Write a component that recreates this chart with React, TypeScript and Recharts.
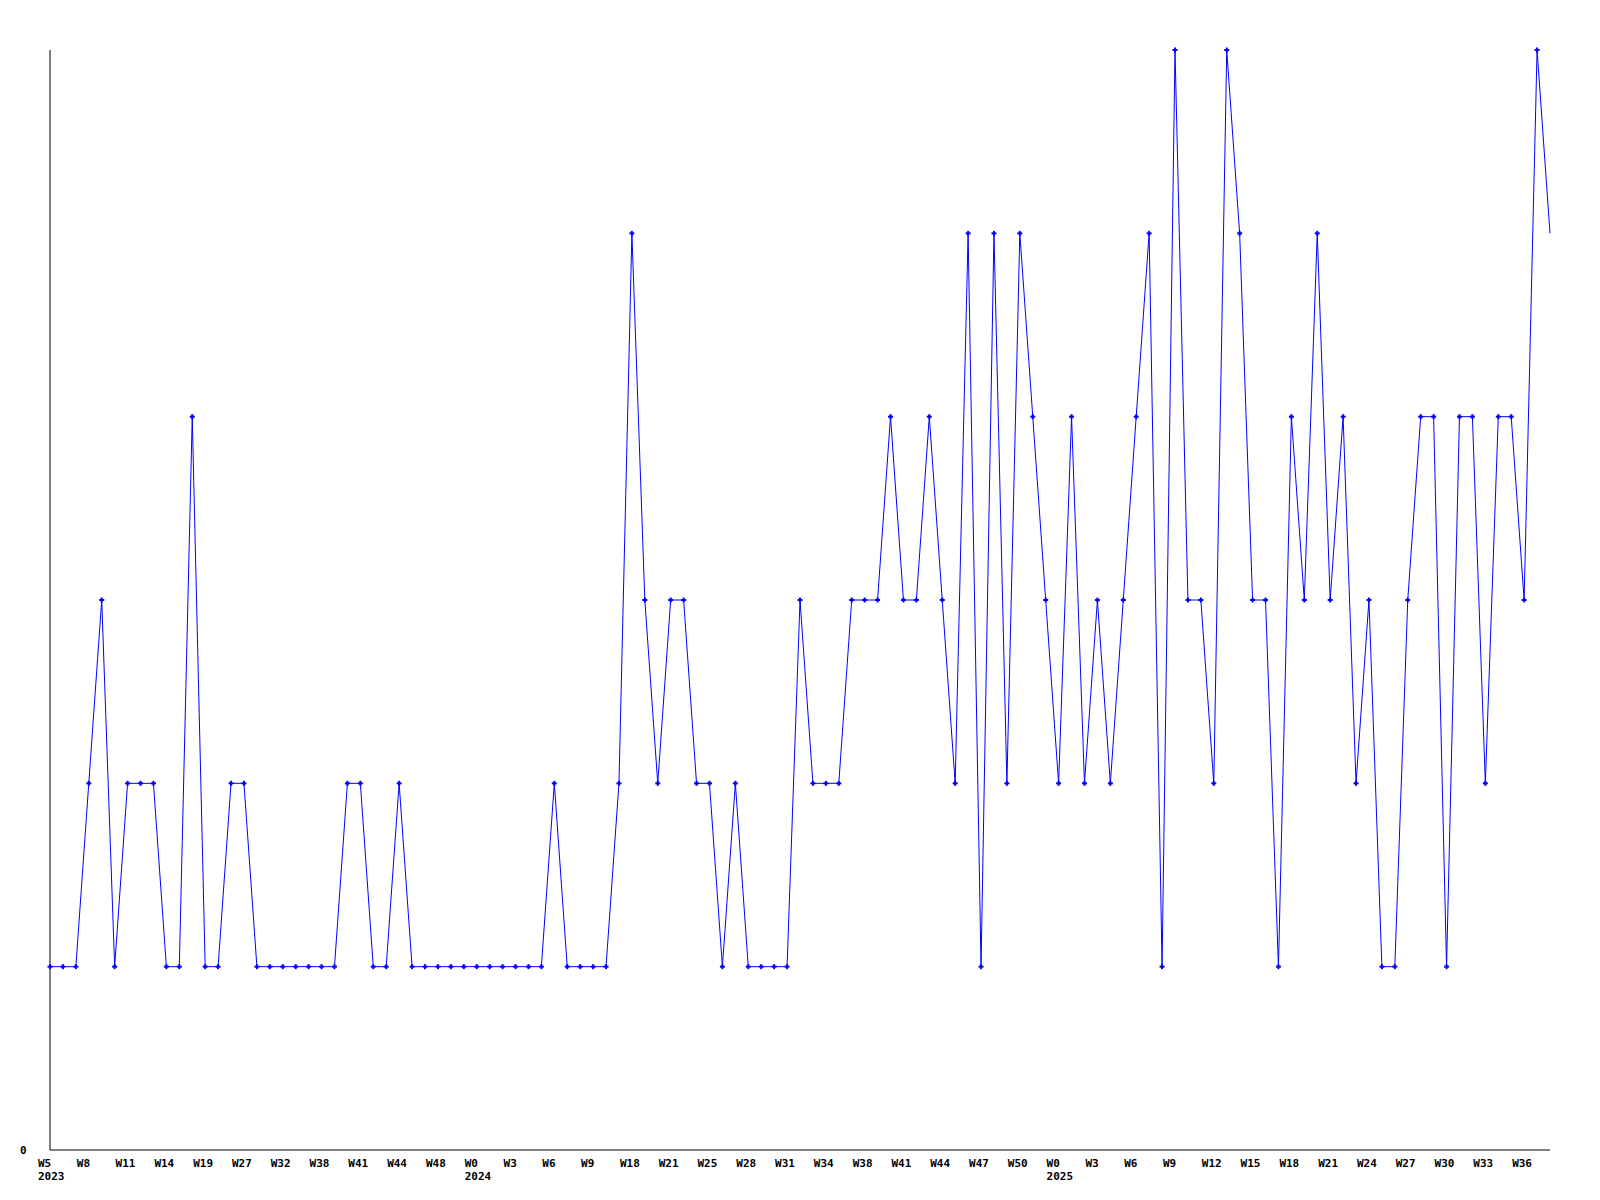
import { LineChart, Line, XAxis, YAxis } from 'recharts'

// one label every third week point
const weekTicks = [
  'W5', 'W8', 'W11', 'W14', 'W19', 'W27', 'W32', 'W38', 'W41', 'W44', 'W48',
  'W0', 'W3', 'W6', 'W9', 'W18', 'W21', 'W25', 'W28', 'W31', 'W34', 'W38', 'W41', 'W44', 'W47', 'W50',
  'W0', 'W3', 'W6', 'W9', 'W12', 'W15', 'W18', 'W21', 'W24', 'W27', 'W30', 'W33', 'W36',
]
// index into weekTicks where each year begins
const yearStarts = [0, 11, 26]
const years = ['2023', '2024', '2025']

const counts = [
  1, 1, 1, 2, 3, 1, 2, 2, 2, 1,
  1, 4, 1, 1, 2, 2, 1, 1, 1, 1,
  1, 1, 1, 2, 2, 1, 1, 2, 1, 1,
  1, 1, 1, 1, 1, 1, 1, 1, 1, 2,
  1, 1, 1, 1, 2, 5, 3, 2, 3, 3,
  2, 2, 1, 2, 1, 1, 1, 1, 3, 2,
  2, 2, 3, 3, 3, 4, 3, 3, 4, 3,
  2, 5, 1, 5, 2, 5, 4, 3, 2, 4,
  2, 3, 2, 3, 4, 5, 1, 6, 3, 3,
  2, 6, 5, 3, 3, 1, 4, 3, 5, 3,
  4, 2, 3, 1, 1, 3, 4, 4, 1, 4,
  4, 2, 4, 4, 3, 6, 5,
]

const data = counts.map((v, i) => ({ i, v }))
const tickIdx = weekTicks.map((_, k) => k * 3)

const font = { fontFamily: '"DejaVu Sans Mono", monospace', fontSize: 11, fontWeight: 'bold' as const }

function WeekTick(props: any) {
  const { x, y, payload } = props
  const k = Math.round(payload.value / 3)
  const yi = yearStarts.indexOf(k)
  return (
    <g>
      <text x={x - 12} y={y + 17} textAnchor="start" fill="#000" {...font}>
        {weekTicks[k]}
      </text>
      {yi >= 0 && (
        <text x={x - 12} y={y + 30} textAnchor="start" fill="#000" {...font}>
          {years[yi]}
        </text>
      )}
    </g>
  )
}

function ZeroTick(props: any) {
  const { x, y, payload } = props
  return (
    <text x={x - 30} y={y + 4} textAnchor="start" fill="#000" {...font}>
      {payload.value}
    </text>
  )
}

function PlusDot(props: any) {
  const { cx, cy, index } = props
  if (index === counts.length - 1) return <g key={index} />
  return (
    <g key={index}>
      <rect x={cx - 2.5} y={cy - 1} width={5} height={2} fill="#0000ff" />
      <rect x={cx - 1} y={cy - 2.5} width={2} height={5} fill="#0000ff" />
    </g>
  )
}

export default function App() {
  return (
    <LineChart
      width={1592}
      height={1192}
      data={data}
      margin={{ top: 42, right: 50, bottom: 0, left: 12 }}
    >
      <XAxis
        dataKey="i"
        type="number"
        domain={[0, counts.length - 1]}
        ticks={tickIdx}
        interval={0}
        height={50}
        tickLine={false}
        tickSize={0}
        tickMargin={0}
        axisLine={{ stroke: '#000' }}
        tick={<WeekTick />}
      />
      <YAxis
        type="number"
        domain={[0, 6]}
        ticks={[0]}
        width={30}
        tickLine={false}
        tickSize={0}
        tickMargin={0}
        axisLine={{ stroke: '#000' }}
        tick={<ZeroTick />}
      />
      <Line
        type="linear"
        dataKey="v"
        stroke="#0000ff"
        strokeWidth={1}
        dot={<PlusDot />}
        activeDot={false}
        isAnimationActive={false}
      />
    </LineChart>
  )
}
